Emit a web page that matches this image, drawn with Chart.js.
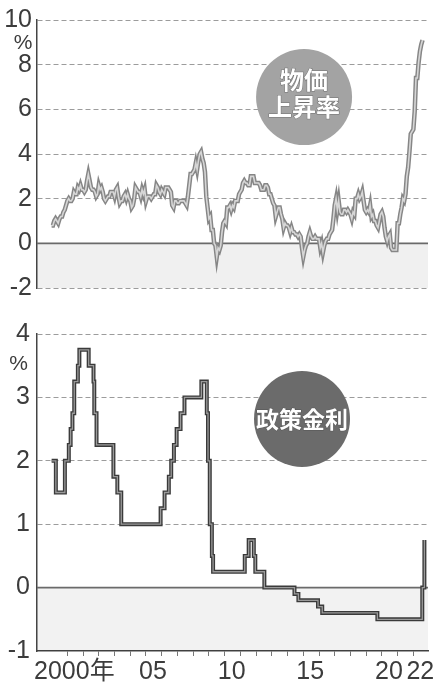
<!DOCTYPE html>
<html><head><meta charset="utf-8">
<script src="https://cdn.jsdelivr.net/npm/chart.js@4"></script>
<style>
html,body{margin:0;padding:0;background:#fff;}
#wrap{position:relative;width:435px;height:690px;overflow:hidden;background:#fff;}
canvas{position:absolute;left:0;}
#c1{top:0}
#c2{top:300px}
</style></head><body>
<div id="wrap"><canvas id="c1" width="435" height="320"></canvas><canvas id="c2" width="435" height="390"></canvas></div>
<script>
// ---- data ----
const cpiStartYear = 1999; // monthly values from Jan 1999
const cpiValues = [
 0.8,0.8,1.0,1.1,1.0,0.9,1.1,1.2,1.2,1.4,1.5,1.7,
 1.9,2.0,1.9,1.9,2.0,2.3,2.2,2.2,2.5,2.4,2.6,2.4,
 2.4,2.3,2.4,2.8,3.1,2.8,2.5,2.4,2.4,2.3,2.1,2.2,
 2.6,2.4,2.5,2.3,2.0,1.9,2.0,2.1,2.1,2.3,2.3,2.3,
 2.1,2.4,2.5,2.1,1.8,1.9,1.9,2.1,2.2,2.0,2.2,2.0,
 1.9,1.6,1.7,2.0,2.5,2.4,2.3,2.3,2.1,2.4,2.2,2.4,
 1.9,2.1,2.1,2.1,2.0,2.1,2.2,2.2,2.6,2.5,2.3,2.2,
 2.4,2.3,2.2,2.5,2.5,2.5,2.4,2.3,1.7,1.6,1.9,1.9,
 1.8,1.8,1.9,1.9,1.9,1.9,1.8,1.7,2.1,2.6,3.1,3.1,
 3.2,3.3,3.6,3.3,3.7,4.0,4.1,3.8,3.6,3.2,2.1,1.6,
 1.1,1.2,0.6,0.6,0.0,-0.1,-0.6,-0.2,-0.3,-0.1,0.5,0.9,
 1.0,0.9,1.6,1.6,1.7,1.5,1.7,1.6,1.9,1.9,1.9,2.2,
 2.3,2.4,2.7,2.8,2.7,2.7,2.6,2.6,3.0,3.0,3.0,2.7,
 2.7,2.7,2.7,2.6,2.4,2.4,2.4,2.6,2.6,2.5,2.2,2.2,
 2.0,1.8,1.7,1.2,1.4,1.6,1.6,1.3,1.1,0.7,0.9,0.8,
 0.8,0.7,0.5,0.7,0.5,0.5,0.4,0.4,0.3,0.4,0.3,-0.2,
 -0.6,-0.3,-0.1,0.0,0.3,0.5,0.3,0.2,0.2,0.3,0.2,0.2,
 0.2,-0.2,0.0,-0.4,-0.1,0.1,0.2,0.2,0.4,0.5,0.6,1.1,
 1.7,2.0,1.5,1.9,1.4,1.3,1.3,1.5,1.5,1.4,1.5,1.4,
 1.3,1.1,1.4,1.3,2.0,2.0,2.2,2.0,2.1,2.3,1.9,1.5,
 1.4,1.5,1.4,1.7,1.2,1.3,1.0,1.0,0.8,0.7,1.0,1.3,
 1.4,1.2,0.7,0.3,0.1,0.3,0.4,-0.2,-0.3,-0.3,-0.3,-0.3,
 0.9,0.9,1.3,1.6,2.0,1.9,2.2,3.0,3.4,4.1,4.9,5.0,
 5.1,5.9,7.4,7.4,8.1,8.6,8.9,9.1
];
const rateDates = ['1999-01-01','1999-04-09','1999-11-05','2000-02-04','2000-03-17','2000-04-28','2000-06-09','2000-09-01','2000-10-06','2001-05-11','2001-08-31','2001-09-18','2001-11-09','2002-12-06','2003-03-07','2003-06-06','2005-12-06','2006-03-08','2006-06-15','2006-08-09','2006-10-11','2006-12-13','2007-03-14','2007-06-13','2008-07-09','2008-11-12','2008-12-10','2009-01-21','2009-03-11','2009-04-08','2011-04-13','2011-07-13','2011-11-09','2011-12-14','2012-07-11','2014-06-11','2014-09-10','2015-12-09','2016-03-16','2019-09-18','2022-07-27','2022-09-14'];
const rateValues = [2.0,1.5,2.0,2.25,2.5,2.75,3.25,3.5,3.75,3.5,3.25,2.75,2.25,1.75,1.5,1.0,1.25,1.5,1.75,2.0,2.25,2.5,2.75,3.0,3.25,2.75,2.0,1.0,0.5,0.25,0.5,0.75,0.5,0.25,0.0,-0.1,-0.2,-0.3,-0.4,-0.5,0.0,0.75];
const cpiTicks = [-2,0,2,4,6,8,10];
const rateTicks = [-1,0,1,2,3,4];
const xYearTicks = [2000,2001,2002,2003,2004,2005,2006,2007,2008,2009,2010,2011,2012,2013,2014,2015,2016,2017,2018,2019,2020,2021,2022];
const xTickLabels = {2000:'2000年',2005:'05',2010:'10',2015:'15',2020:'20',2022:'22'};
const cpiTitle = ['物価','上昇率'];
const rateTitle = ['政策金利'];
const unitLabel = '%';

// ---- helpers ----
const X_MIN = 1998.07, X_MAX = 2022.93;
const FONT = "'Liberation Sans','Noto Sans CJK JP',sans-serif";
const CJK = "'Noto Sans CJK JP',sans-serif";
function decYear(s){const d=new Date(s+'T00:00:00Z');const y=d.getUTCFullYear();const start=Date.UTC(y,0,1);return y+(d-start)/(365*86400000);}
const cpiPts = cpiValues.map((v,i)=>({x: cpiStartYear + i/12, y: v}));
const ratePts = rateValues.map((v,i)=>({x: decYear(rateDates[i]), y: v}));

const decor = {
  id:'decor',
  beforeDatasetsDraw(chart, args, o){
    const {ctx, chartArea:a, scales:{y}} = chart;
    const y0 = y.getPixelForValue(0), yb = y.getPixelForValue(o.shadeTo);
    ctx.save();
    ctx.fillStyle = o.shade;
    ctx.fillRect(a.left, y0, a.right-a.left, yb-y0);
    ctx.strokeStyle = '#6a6a6a'; ctx.lineWidth = 1.6;
    ctx.beginPath(); ctx.moveTo(a.left, y0); ctx.lineTo(a.right, y0); ctx.stroke();
    ctx.restore();
  },
  afterDatasetsDraw(chart, args, o){
    const {ctx, scales:{x,y}} = chart;
    const cx = x.getPixelForValue(o.cx), cy = y.getPixelForValue(o.cy);
    ctx.save();
    ctx.fillStyle = o.circle;
    ctx.beginPath(); ctx.arc(cx, cy, o.r, 0, Math.PI*2); ctx.fill();
    ctx.fillStyle = '#fff';
    ctx.textAlign = 'center'; ctx.textBaseline = 'middle';
    ctx.font = 'bold ' + o.fs + 'px ' + CJK;
    ctx.strokeStyle = 'rgba(70,70,70,0.55)'; ctx.lineWidth = 1;
    o.lines.forEach((t,i)=>{
      const ty = cy + o.offs[i];
      ctx.strokeText(t, cx, ty);
      ctx.fillText(t, cx, ty);
    });
    ctx.fillStyle = '#3c3c3c';
    ctx.font = '21px ' + FONT;
    ctx.textAlign = 'center';
    ctx.fillText(unitLabel, o.ux, y.getPixelForValue(o.uy));
    ctx.restore();
  }
};

const gridColor = (ctx)=> (ctx.tick && ctx.tick.value === 0) ? 'rgba(0,0,0,0)' : '#9c9c9c';

new Chart(document.getElementById('c1'), {
  type:'line',
  data:{datasets:[
    {data:cpiPts, borderColor:'#868686', borderWidth:4.5, pointRadius:0, tension:0, order:2},
    {data:cpiPts, borderColor:'#d6d6d6', borderWidth:1.6, pointRadius:0, tension:0, order:1}
  ]},
  options:{
    responsive:false, animation:false,
    layout:{padding:{left:0,right:7,top:16,bottom:32}},
    plugins:{legend:{display:false}, tooltip:{enabled:false},
      decor:{shade:'rgba(0,0,0,0.06)', shadeTo:-2, cx:2015.05, cy:6.55, r:48, circle:'#a3a3a3',
             lines:cpiTitle, offs:[-17,10], fs:24, ux:23, uy:8.95}},
    scales:{
      x:{type:'linear', min:X_MIN, max:X_MAX, display:false},
      y:{min:-2, max:10,
         afterBuildTicks:s=>{s.ticks = cpiTicks.map(v=>({value:v}));},
         afterFit:s=>{s.width = 37;},
         ticks:{font:{family:FONT,size:25}, color:'#3c3c3c', padding:5},
         grid:{drawTicks:false, color:gridColor, lineWidth:1},
         border:{display:true, color:'#444', width:1.5, dash:[5,3]}}
    }
  },
  plugins:[decor]
});

new Chart(document.getElementById('c2'), {
  type:'line',
  data:{datasets:[
    {data:ratePts, borderColor:'#3a3a3a', borderWidth:4, pointRadius:0, stepped:'before', order:2},
    {data:ratePts, borderColor:'#9a9a9a', borderWidth:1.3, pointRadius:0, stepped:'before', order:1}
  ]},
  options:{
    responsive:false, animation:false,
    layout:{padding:{left:0,right:7,top:34,bottom:0}},
    plugins:{legend:{display:false}, tooltip:{enabled:false},
      decor:{shade:'rgba(0,0,0,0.05)', shadeTo:-1, cx:2014.92, cy:2.66, r:48, circle:'#6b6b6b',
             lines:rateTitle, offs:[0], fs:23, ux:18.5, uy:3.53}},
    scales:{
      x:{type:'linear', min:X_MIN, max:X_MAX,
         afterBuildTicks:s=>{s.ticks = xYearTicks.map(v=>({value:v}));},
         afterFit:s=>{s.height = 39;},
         ticks:{font:{family:FONT,size:25}, color:'#3c3c3c', padding:1, labelOffset:7, autoSkip:false, maxRotation:0,
                callback:(v)=> xTickLabels[v] !== undefined ? xTickLabels[v] : ''},
         grid:{drawOnChartArea:false, drawTicks:true, tickLength:5, color:'#777'},
         border:{display:true, color:'#444', width:1.5}},
      y:{min:-1, max:4,
         afterBuildTicks:s=>{s.ticks = rateTicks.map(v=>({value:v}));},
         afterFit:s=>{s.width = 37;},
         ticks:{font:{family:FONT,size:25}, color:'#3c3c3c', padding:7},
         grid:{drawTicks:false, color:(c)=> (c.tick && (c.tick.value===0 || c.tick.value===-1)) ? 'rgba(0,0,0,0)' : '#9c9c9c', lineWidth:1},
         border:{display:true, color:'#444', width:1.5, dash:[5,3]}}
    }
  },
  plugins:[decor]
});
</script>
</body></html>
